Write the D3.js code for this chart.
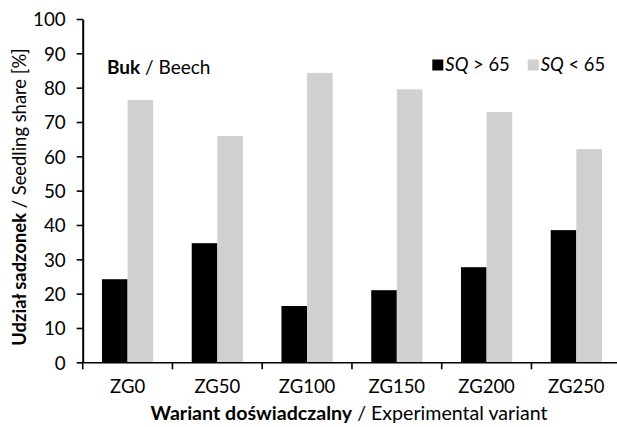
<!DOCTYPE html>
<html><head><meta charset="utf-8">
<script src="https://cdn.jsdelivr.net/npm/d3@7"></script>
<style>body{margin:0;background:#fff}svg{display:block}text{font-family:Lato,"Open Sans",sans-serif;fill:#000}</style>
</head><body>
<svg id="c" width="617" height="427"></svg>
<script>
const categories = ["ZG0","ZG50","ZG100","ZG150","ZG200","ZG250"];
const seriesNames = ["SQ > 65","SQ < 65"];
const above65 = [24.2, 34.7, 16.4, 21.0, 27.7, 38.5];
const below65 = [76.4, 65.9, 84.3, 79.5, 72.9, 62.1];
const yTicks = [0,10,20,30,40,50,60,70,80,90,100];
const colors = ["#000000","#d0d0d0"];

const svg = d3.select("#c");
const x0 = 82.7, x1 = 621.2, yTop = 19, yBot = 362.3;
const x = d3.scaleBand().domain(categories).range([x0, x1]).paddingInner(0).paddingOuter(0);
const xs = d3.scaleBand().domain([0,1]).range([0, x.bandwidth()]).paddingInner(0).paddingOuter(0.753);
const y = d3.scaleLinear().domain([0,100]).range([yBot, yTop]);

const data = categories.map((c,i)=>({c, v:[above65[i], below65[i]]}));
const g = svg.append("g");
data.forEach(d=>{
  d.v.forEach((v,k)=>{
    g.append("rect").attr("x", x(d.c)+xs(k)).attr("width", xs.bandwidth())
      .attr("y", y(v)).attr("height", y(0)-y(v)).attr("fill", colors[k]);
  });
});

// y axis
const ya = svg.append("g").attr("transform",`translate(${x0},0)`)
  .call(d3.axisLeft(y).tickValues(yTicks).tickSize(6).tickPadding(11).tickSizeOuter(0));
ya.select(".domain").attr("stroke","#000").attr("stroke-width",2);
ya.selectAll(".tick line").attr("stroke","#000").attr("stroke-width",1.6);
ya.selectAll(".tick text").style("font-size","18.8px").attr("dy","0.36em");

// x axis
const xa = svg.append("g").attr("transform",`translate(0,${yBot})`)
  .call(d3.axisBottom(x).tickSize(0).tickPadding(18).tickSizeOuter(0));
xa.select(".domain").attr("stroke","#000").attr("stroke-width",1.6);
xa.selectAll(".tick text").style("font-size","18.5px");
const bounds = categories.map(c=>x(c)).concat([x1]);
xa.selectAll(".xt").data(bounds).enter().append("line").attr("class","xt")
  .attr("x1",d=>d).attr("x2",d=>d).attr("y1",0).attr("y2",7).attr("stroke","#000").attr("stroke-width",1.6);

// axis titles
const xt = svg.append("text").attr("x",349).attr("y",420).attr("text-anchor","middle").style("font-size","19.6px");
xt.append("tspan").attr("font-weight","bold").text("Wariant doświadczalny");
xt.append("tspan").text(" / Experimental variant");

const yt = svg.append("text").attr("transform",`translate(26,197) rotate(-90)`).attr("text-anchor","middle").style("font-size","18.4px");
yt.append("tspan").attr("font-weight","bold").text("Udział sadzonek");
yt.append("tspan").text(" / Seedling share [%]");

// inner label
const bl = svg.append("text").attr("x",107).attr("y",73.5).style("font-size","19px");
bl.append("tspan").attr("font-weight","bold").text("Buk");
bl.append("tspan").text(" / Beech");

// legend
const legX = [432.3, 527.7];
seriesNames.forEach((n,k)=>{
  svg.append("rect").attr("x",legX[k]).attr("y",59.5).attr("width",11).attr("height",11).attr("fill",colors[k]);
  const t = svg.append("text").attr("x",legX[k]+13).attr("y",71).style("font-size","18.4px");
  const parts = n.split(" ");
  t.append("tspan").attr("font-style","italic").text(parts[0]);
  t.append("tspan").text(" " + parts.slice(1).join(" "));
});
</script>
</body></html>
